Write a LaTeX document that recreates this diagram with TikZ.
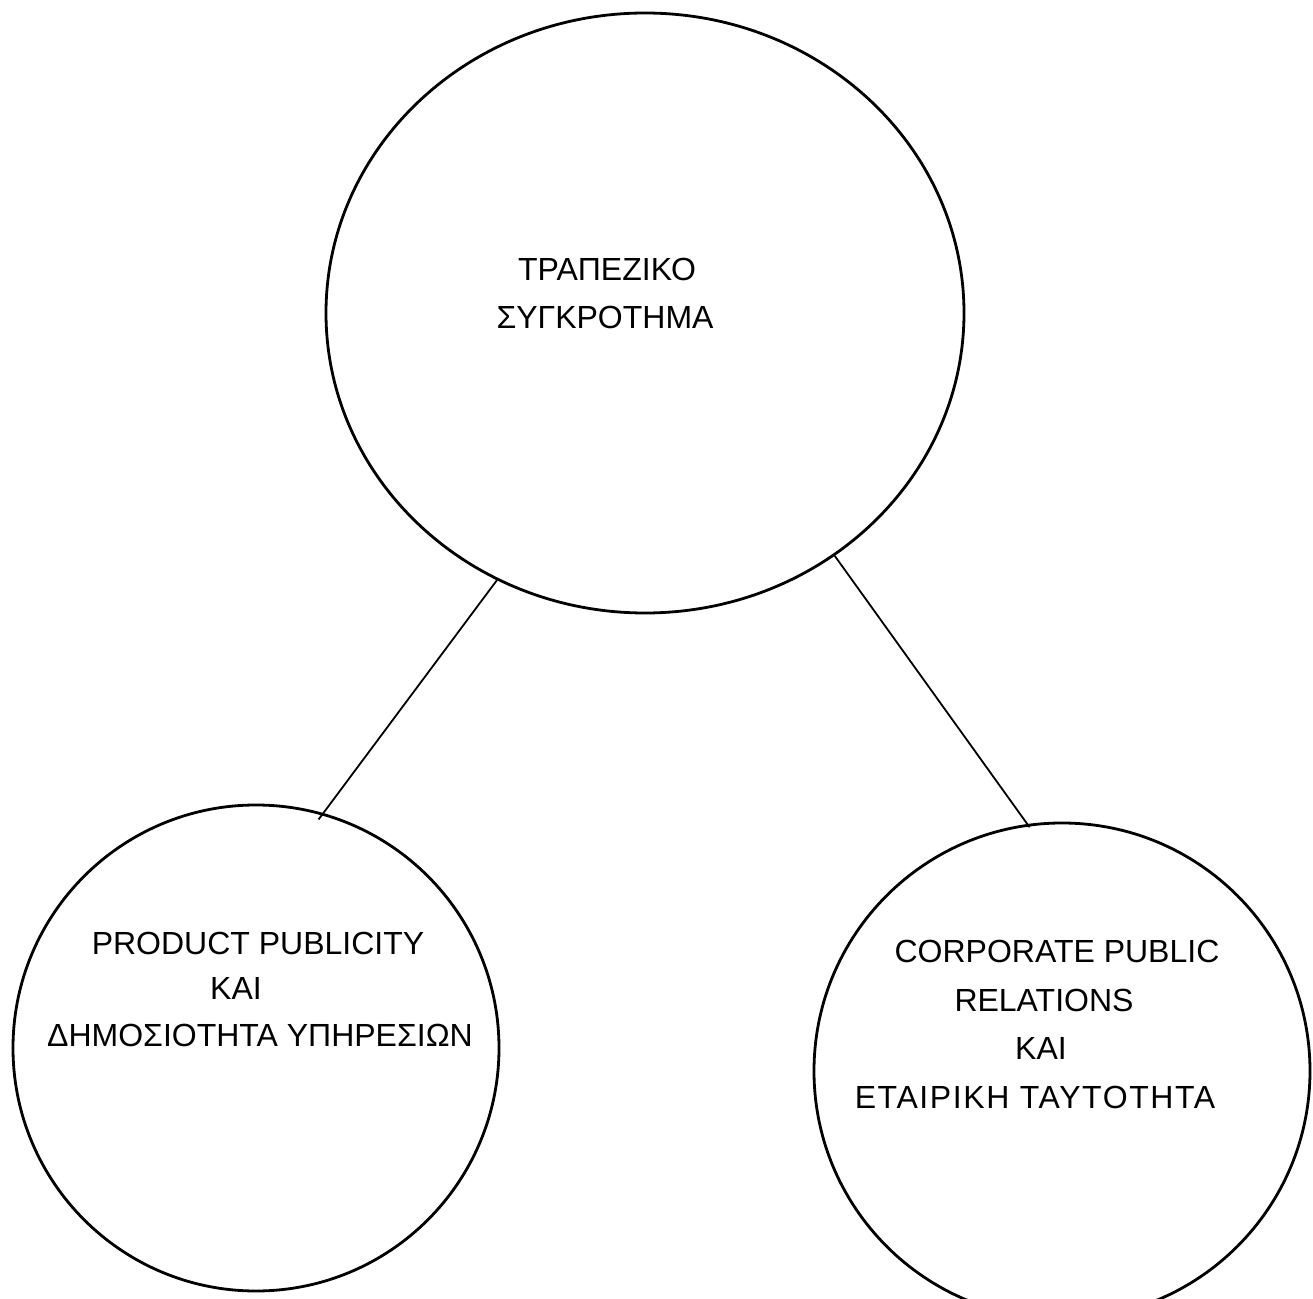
\documentclass[tikz,border=0pt]{standalone}
\usepackage{fontspec}
\setmainfont{Liberation Sans}
\newfontfamily\widesans[LetterSpace=5]{Liberation Sans}
\usetikzlibrary{shapes.geometric,calc}
\tikzset{
  bubble/.style={draw, line width=1.4pt, inner sep=0pt},
  link/.style={line width=0.9pt},
  lbl/.style={font=\fontsize{16}{19}\selectfont, anchor=base, inner sep=0pt},
}
\begin{document}
\begin{tikzpicture}[x=0.5pt,y=-0.5pt]
\useasboundingbox (0,0) rectangle (1313,1299);
% circles
\node[bubble, ellipse, minimum width=319pt, minimum height=300pt] (top) at (645,313) {};
\node[bubble, circle, minimum size=243pt] (left) at (256,1048) {};
\node[bubble, circle, minimum size=248pt] (right) at (1062,1071) {};
% connectors
\draw[link, shorten >=-4pt] (top.241) -- (left.74);
\draw[link, shorten >=-2pt] (top.308) -- (right.98);
% texts
\node[lbl] (tA) at (607,281) {ΤΡΑΠΕΖΙΚΟ};
\node[lbl] (tB) at (605,329) {ΣΥΓΚΡΟΤΗΜΑ};
\node[lbl] (lA) at (258,954) {PRODUCT PUBLICITY};
\node[lbl] (lB) at (236,999) {ΚΑΙ};
\node[lbl] (lC) at (260,1046) {ΔΗΜΟΣΙΟΤΗΤΑ ΥΠΗΡΕΣΙΩΝ};
\node[lbl] (rA) at (1057,962) {CORPORATE PUBLIC};
\node[lbl] (rB) at (1044,1011) {RELATIONS};
\node[lbl] (rC) at (1041,1059) {ΚΑΙ};
\node[lbl, font=\widesans\fontsize{16}{19}\selectfont] (rD) at (1035,1108) {ΕΤΑΙΡΙΚΗ ΤΑΥΤΟΤΗΤΑ};
\end{tikzpicture}
\end{document}
